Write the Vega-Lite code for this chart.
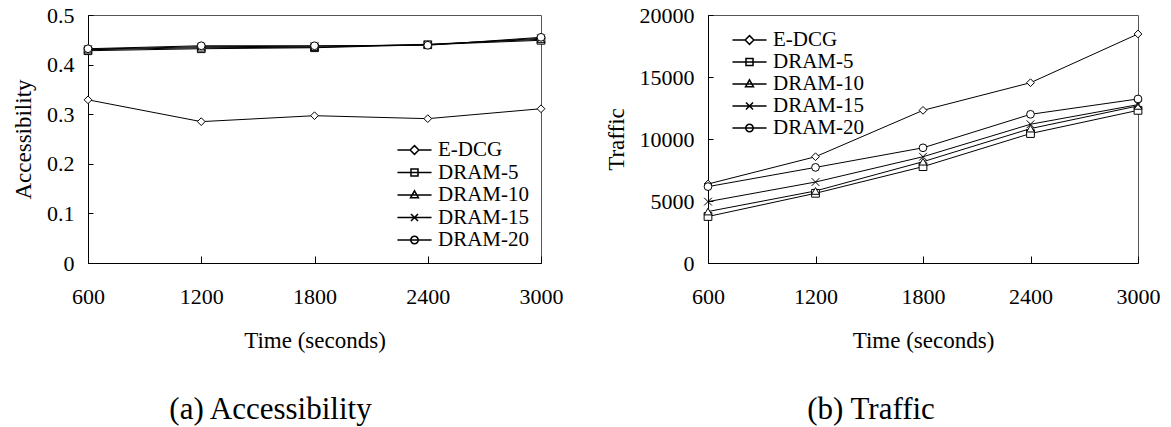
{
  "$schema": "https://vega.github.io/schema/vega-lite/v6.json",
  "padding": {"left": 12, "top": 3, "right": 5, "bottom": 0},
  "background": "white",
  "datasets": {
    "acc": [
      {"time": 600, "series": "E-DCG", "value": 0.329},
      {"time": 1200, "series": "E-DCG", "value": 0.285},
      {"time": 1800, "series": "E-DCG", "value": 0.297},
      {"time": 2400, "series": "E-DCG", "value": 0.291},
      {"time": 3000, "series": "E-DCG", "value": 0.311},
      {"time": 600, "series": "DRAM-5", "value": 0.428},
      {"time": 1200, "series": "DRAM-5", "value": 0.432},
      {"time": 1800, "series": "DRAM-5", "value": 0.434},
      {"time": 2400, "series": "DRAM-5", "value": 0.44},
      {"time": 3000, "series": "DRAM-5", "value": 0.449},
      {"time": 600, "series": "DRAM-10", "value": 0.43},
      {"time": 1200, "series": "DRAM-10", "value": 0.434},
      {"time": 1800, "series": "DRAM-10", "value": 0.435},
      {"time": 2400, "series": "DRAM-10", "value": 0.441},
      {"time": 3000, "series": "DRAM-10", "value": 0.451},
      {"time": 600, "series": "DRAM-15", "value": 0.431},
      {"time": 1200, "series": "DRAM-15", "value": 0.436},
      {"time": 1800, "series": "DRAM-15", "value": 0.437},
      {"time": 2400, "series": "DRAM-15", "value": 0.44},
      {"time": 3000, "series": "DRAM-15", "value": 0.453},
      {"time": 600, "series": "DRAM-20", "value": 0.432},
      {"time": 1200, "series": "DRAM-20", "value": 0.438},
      {"time": 1800, "series": "DRAM-20", "value": 0.438},
      {"time": 2400, "series": "DRAM-20", "value": 0.439},
      {"time": 3000, "series": "DRAM-20", "value": 0.455}
    ],
    "traffic": [
      {"time": 600, "series": "E-DCG", "value": 6370},
      {"time": 1200, "series": "E-DCG", "value": 8570},
      {"time": 1800, "series": "E-DCG", "value": 12310},
      {"time": 2400, "series": "E-DCG", "value": 14540},
      {"time": 3000, "series": "E-DCG", "value": 18470},
      {"time": 600, "series": "DRAM-5", "value": 3750},
      {"time": 1200, "series": "DRAM-5", "value": 5620},
      {"time": 1800, "series": "DRAM-5", "value": 7770},
      {"time": 2400, "series": "DRAM-5", "value": 10440},
      {"time": 3000, "series": "DRAM-5", "value": 12310},
      {"time": 600, "series": "DRAM-10", "value": 4150},
      {"time": 1200, "series": "DRAM-10", "value": 5810},
      {"time": 1800, "series": "DRAM-10", "value": 8170},
      {"time": 2400, "series": "DRAM-10", "value": 10840},
      {"time": 3000, "series": "DRAM-10", "value": 12670},
      {"time": 600, "series": "DRAM-15", "value": 4950},
      {"time": 1200, "series": "DRAM-15", "value": 6530},
      {"time": 1800, "series": "DRAM-15", "value": 8570},
      {"time": 2400, "series": "DRAM-15", "value": 11190},
      {"time": 3000, "series": "DRAM-15", "value": 12770},
      {"time": 600, "series": "DRAM-20", "value": 6160},
      {"time": 1200, "series": "DRAM-20", "value": 7710},
      {"time": 1800, "series": "DRAM-20", "value": 9290},
      {"time": 2400, "series": "DRAM-20", "value": 11990},
      {"time": 3000, "series": "DRAM-20", "value": 13230}
    ]
  },
  "spacing": 167,
  "bounds": "flush",
  "hconcat": [
    {
      "width": 453,
      "height": 248,
      "title": {"text": "(a) Accessibility", "orient": "bottom", "anchor": "middle", "frame": "group", "dx": -44, "offset": 43},
      "data": {"name": "acc"},
      "encoding": {
        "x": {"field": "time", "type": "quantitative", "scale": {"domain": [600, 3000], "nice": false, "zero": false},
          "axis": {"values": [600, 1200, 1800, 2400, 3000], "format": "d", "title": "Time (seconds)", "tickSize": -7, "labelPadding": 30, "titlePadding": 22}},
        "y": {"field": "value", "type": "quantitative", "scale": {"domain": [0, 0.5], "nice": false},
          "axis": {"values": [0, 0.1, 0.2, 0.3, 0.4, 0.5], "format": "~g", "title": "Accessibility", "tickSize": -5, "labelPadding": 19, "titlePadding": 11}}
      },
      "layer": [
        {"mark": {"type": "line", "color": "black", "strokeWidth": 1}, "encoding": {"detail": {"field": "series"}}},
        {"mark": {"type": "point", "filled": true, "fill": "white", "stroke": "black", "strokeWidth": 1, "size": 60, "opacity": 1},
          "encoding": {"shape": {"field": "series", "legend": null,
            "scale": {"domain": ["E-DCG", "DRAM-5", "DRAM-10", "DRAM-15", "DRAM-20"], "range": ["diamond", "square", "triangle-up", "M-1,-1L1,1M-1,1L1,-1", "circle"]}}}},
        {"mark": {"type": "point", "opacity": 0, "color": "black"},
          "encoding": {"shape": {"field": "series",
            "scale": {"domain": ["E-DCG", "DRAM-5", "DRAM-10", "DRAM-15", "DRAM-20"], "range": [
              "M-1.55,0H-0.4M0.4,0H1.55M0,-0.4L0.4,0L0,0.4L-0.4,0Z",
              "M-1.55,0H1.55M-0.32,-0.32H0.32V0.32H-0.32Z",
              "M-1.55,0H1.55M0,-0.38L0.36,0.26H-0.36Z",
              "M-1.55,0H1.55M-0.32,-0.32L0.32,0.32M-0.32,0.32L0.32,-0.32",
              "M-1.55,0H1.55M0.34,0A0.34,0.34,0,1,1,-0.34,0A0.34,0.34,0,1,1,0.34,0Z"]},
            "legend": {"orient": "none", "legendX": 314.5, "legendY": 123, "title": null, "symbolSize": 484, "labelFontSize": 21, "labelOffset": 11.5, "rowPadding": 0.5, "padding": 0,
              "encode": {"symbols": {"update": {"stroke": {"value": "black"}, "fill": {"value": "white"}, "opacity": {"value": 1}, "strokeWidth": {"value": 1}, "size": {"value": 484}}}}}}}}
      ],
      "resolve": {"scale": {"shape": "independent"}}
    },
    {
      "width": 430,
      "height": 248,
      "title": {"text": "(b) Traffic", "orient": "bottom", "anchor": "middle", "frame": "group", "dx": -52, "offset": 43},
      "data": {"name": "traffic"},
      "encoding": {
        "x": {"field": "time", "type": "quantitative", "scale": {"domain": [600, 3000], "nice": false, "zero": false},
          "axis": {"values": [600, 1200, 1800, 2400, 3000], "format": "d", "title": "Time (seconds)", "tickSize": -7, "labelPadding": 30, "titlePadding": 22}},
        "y": {"field": "value", "type": "quantitative", "scale": {"domain": [0, 20000], "nice": false},
          "axis": {"values": [0, 5000, 10000, 15000, 20000], "format": "d", "title": "Traffic", "tickSize": -5, "labelPadding": 19, "titlePadding": 11}}
      },
      "layer": [
        {"mark": {"type": "line", "color": "black", "strokeWidth": 1}, "encoding": {"detail": {"field": "series"}}},
        {"mark": {"type": "point", "filled": true, "fill": "white", "stroke": "black", "strokeWidth": 1, "size": 60, "opacity": 1},
          "encoding": {"shape": {"field": "series", "legend": null,
            "scale": {"domain": ["E-DCG", "DRAM-5", "DRAM-10", "DRAM-15", "DRAM-20"], "range": ["diamond", "square", "triangle-up", "M-1,-1L1,1M-1,1L1,-1", "circle"]}}}},
        {"mark": {"type": "point", "opacity": 0, "color": "black"},
          "encoding": {"shape": {"field": "series",
            "scale": {"domain": ["E-DCG", "DRAM-5", "DRAM-10", "DRAM-15", "DRAM-20"], "range": [
              "M-1.55,0H-0.4M0.4,0H1.55M0,-0.4L0.4,0L0,0.4L-0.4,0Z",
              "M-1.55,0H1.55M-0.32,-0.32H0.32V0.32H-0.32Z",
              "M-1.55,0H1.55M0,-0.38L0.36,0.26H-0.36Z",
              "M-1.55,0H1.55M-0.32,-0.32L0.32,0.32M-0.32,0.32L0.32,-0.32",
              "M-1.55,0H1.55M0.34,0A0.34,0.34,0,1,1,-0.34,0A0.34,0.34,0,1,1,0.34,0Z"]},
            "legend": {"orient": "none", "legendX": 29.5, "legendY": 13, "title": null, "symbolSize": 484, "labelFontSize": 21, "labelOffset": 11.5, "rowPadding": -0.7, "padding": 0,
              "encode": {"symbols": {"update": {"stroke": {"value": "black"}, "fill": {"value": "white"}, "opacity": {"value": 1}, "strokeWidth": {"value": 1}, "size": {"value": 484}}}}}}}}
      ],
      "resolve": {"scale": {"shape": "independent"}}
    }
  ],
  "config": {
    "font": "Liberation Serif",
    "view": {"stroke": "#555", "strokeWidth": 1},
    "axis": {"domainColor": "black", "tickColor": "black", "labelColor": "black", "titleColor": "black", "labelFontSize": 22, "titleFontSize": 23, "titleFontWeight": "normal", "grid": false, "labelFlush": false, "labelOverlap": false, "labelFont": "Liberation Serif", "titleFont": "Liberation Serif"},
    "legend": {"labelFont": "Liberation Serif", "labelColor": "black", "labelFontSize": 21},
    "title": {"font": "Liberation Serif", "fontSize": 31, "fontWeight": "normal", "color": "black"}
  }
}
